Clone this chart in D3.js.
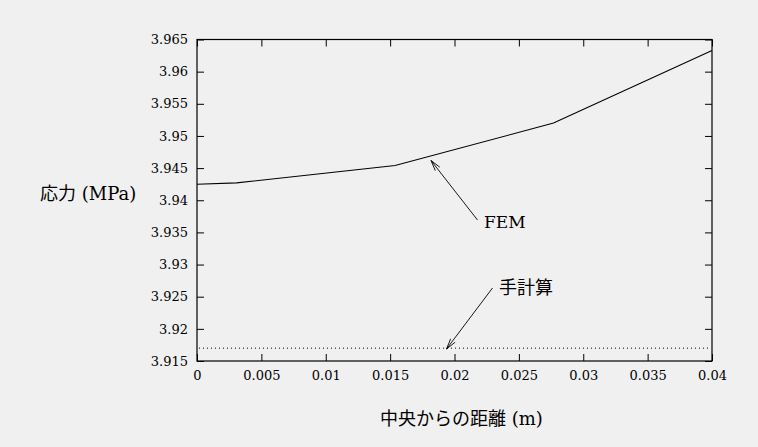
<!DOCTYPE html>
<html><head><meta charset="utf-8">
<script src="https://cdn.jsdelivr.net/npm/d3@7"></script>
<style>
html,body{margin:0;padding:0;background:#f0f0f0;}
svg{display:block;}
</style></head>
<body>
<script>
// ---- data ----
const femX = [0, 0.003077, 0.015385, 0.027692, 0.04];
const femY = [3.9425, 3.9427, 3.9454, 3.9520, 3.9633];
const handX = [0, 0.04];
const handY = [3.917, 3.917];
const xTicks = [0, 0.005, 0.01, 0.015, 0.02, 0.025, 0.03, 0.035, 0.04];
const yTicks = [3.915, 3.92, 3.925, 3.93, 3.935, 3.94, 3.945, 3.95, 3.955, 3.96, 3.965];
const xTitle = ["中央からの距離", " (m)"];
const yTitle = ["応力", " (MPa)"];
const labelFEM = "FEM";
const labelHand = "手計算";

const W = 758, H = 447;
const L = 197, R = 712, T = 39.5, B = 361;
const SF = "'DejaVu Serif', serif";
const CJ = "'Noto Sans CJK JP', 'Noto Sans CJK SC', sans-serif";

const svg = d3.select("body").append("svg").attr("width", W).attr("height", H)
  .style("background", "#f0f0f0");

const x = d3.scaleLinear().domain([0, 0.04]).range([L, R]);
const y = d3.scaleLinear().domain([3.915, 3.965]).range([B, T]);

const fmt = d => String(+d.toFixed(4));

const ax = [
  {g: d3.axisBottom(x).tickValues(xTicks).tickSize(-7).tickFormat(fmt), t: `translate(0,${B})`},
  {g: d3.axisTop(x).tickValues(xTicks).tickSize(-7).tickFormat(""), t: `translate(0,${T})`},
  {g: d3.axisLeft(y).tickValues(yTicks).tickSize(-7).tickFormat(fmt), t: `translate(${L},0)`},
  {g: d3.axisRight(y).tickValues(yTicks).tickSize(-7).tickFormat(""), t: `translate(${R},0)`}
];
ax.forEach((a, i) => {
  const g = svg.append("g").attr("transform", a.t).call(a.g)
    .attr("font-family", SF).attr("font-size", 13);
  g.select(".domain").remove();
  g.selectAll(".tick line").attr("stroke", "#000").attr("stroke-width", 1);
  g.selectAll(".tick text").attr("fill", "#000");
  if (i === 0) g.selectAll(".tick text").attr("y", 10).attr("dy", "0.71em");
  if (i === 2) g.selectAll(".tick text").attr("x", -9);
});

svg.append("rect").attr("x", L).attr("y", T).attr("width", R - L).attr("height", B - T)
  .attr("fill", "none").attr("stroke", "#000").attr("stroke-width", 1.2);

const line = d3.line().x(d => x(d[0])).y(d => y(d[1]));
svg.append("path").datum(femX.map((v, i) => [v, femY[i]]))
  .attr("d", line).attr("fill", "none").attr("stroke", "#000").attr("stroke-width", 1.1);

svg.append("path").datum(handX.map((v, i) => [v, handY[i]]))
  .attr("d", d3.line().x(d => x(d[0]) + (d[0] === 0 ? 2 : -4)).y(d => y(d[1])))
  .attr("fill", "none").attr("stroke", "#000").attr("stroke-width", 1)
  .attr("stroke-dasharray", "1,3");

function arrow(x1, y1, x2, y2) {
  svg.append("line").attr("x1", x1).attr("y1", y1).attr("x2", x2).attr("y2", y2)
    .attr("stroke", "#000").attr("stroke-width", 0.9);
  const ang = Math.atan2(y2 - y1, x2 - x1), len = 11, sp = 0.26;
  [ang + Math.PI - sp, ang + Math.PI + sp].forEach(a => {
    svg.append("line").attr("x1", x2).attr("y1", y2)
      .attr("x2", x2 + len * Math.cos(a)).attr("y2", y2 + len * Math.sin(a))
      .attr("stroke", "#000").attr("stroke-width", 0.9);
  });
}
arrow(477.5, 220, 431, 160.5);
arrow(492.5, 288, 446.5, 349);

svg.append("text").attr("x", 484).attr("y", 228).text(labelFEM)
  .attr("font-family", SF).attr("font-size", 17).attr("fill", "#000");
svg.append("text").attr("x", 499).attr("y", 294).text(labelHand)
  .attr("font-family", CJ).attr("font-size", 18).attr("fill", "#000");

const yt = svg.append("text").attr("x", 40).attr("y", 200).attr("fill", "#000")
  .attr("font-family", SF).attr("font-size", 18);
yt.append("tspan").text(yTitle[0]).attr("font-family", CJ);
yt.append("tspan").text(yTitle[1]).attr("font-family", SF);

const xt = svg.append("text").attr("x", 380).attr("y", 425).attr("fill", "#000")
  .attr("font-family", SF).attr("font-size", 18);
xt.append("tspan").text(xTitle[0]).attr("font-family", CJ);
xt.append("tspan").text(xTitle[1]).attr("font-family", SF);
</script>
</body></html>
